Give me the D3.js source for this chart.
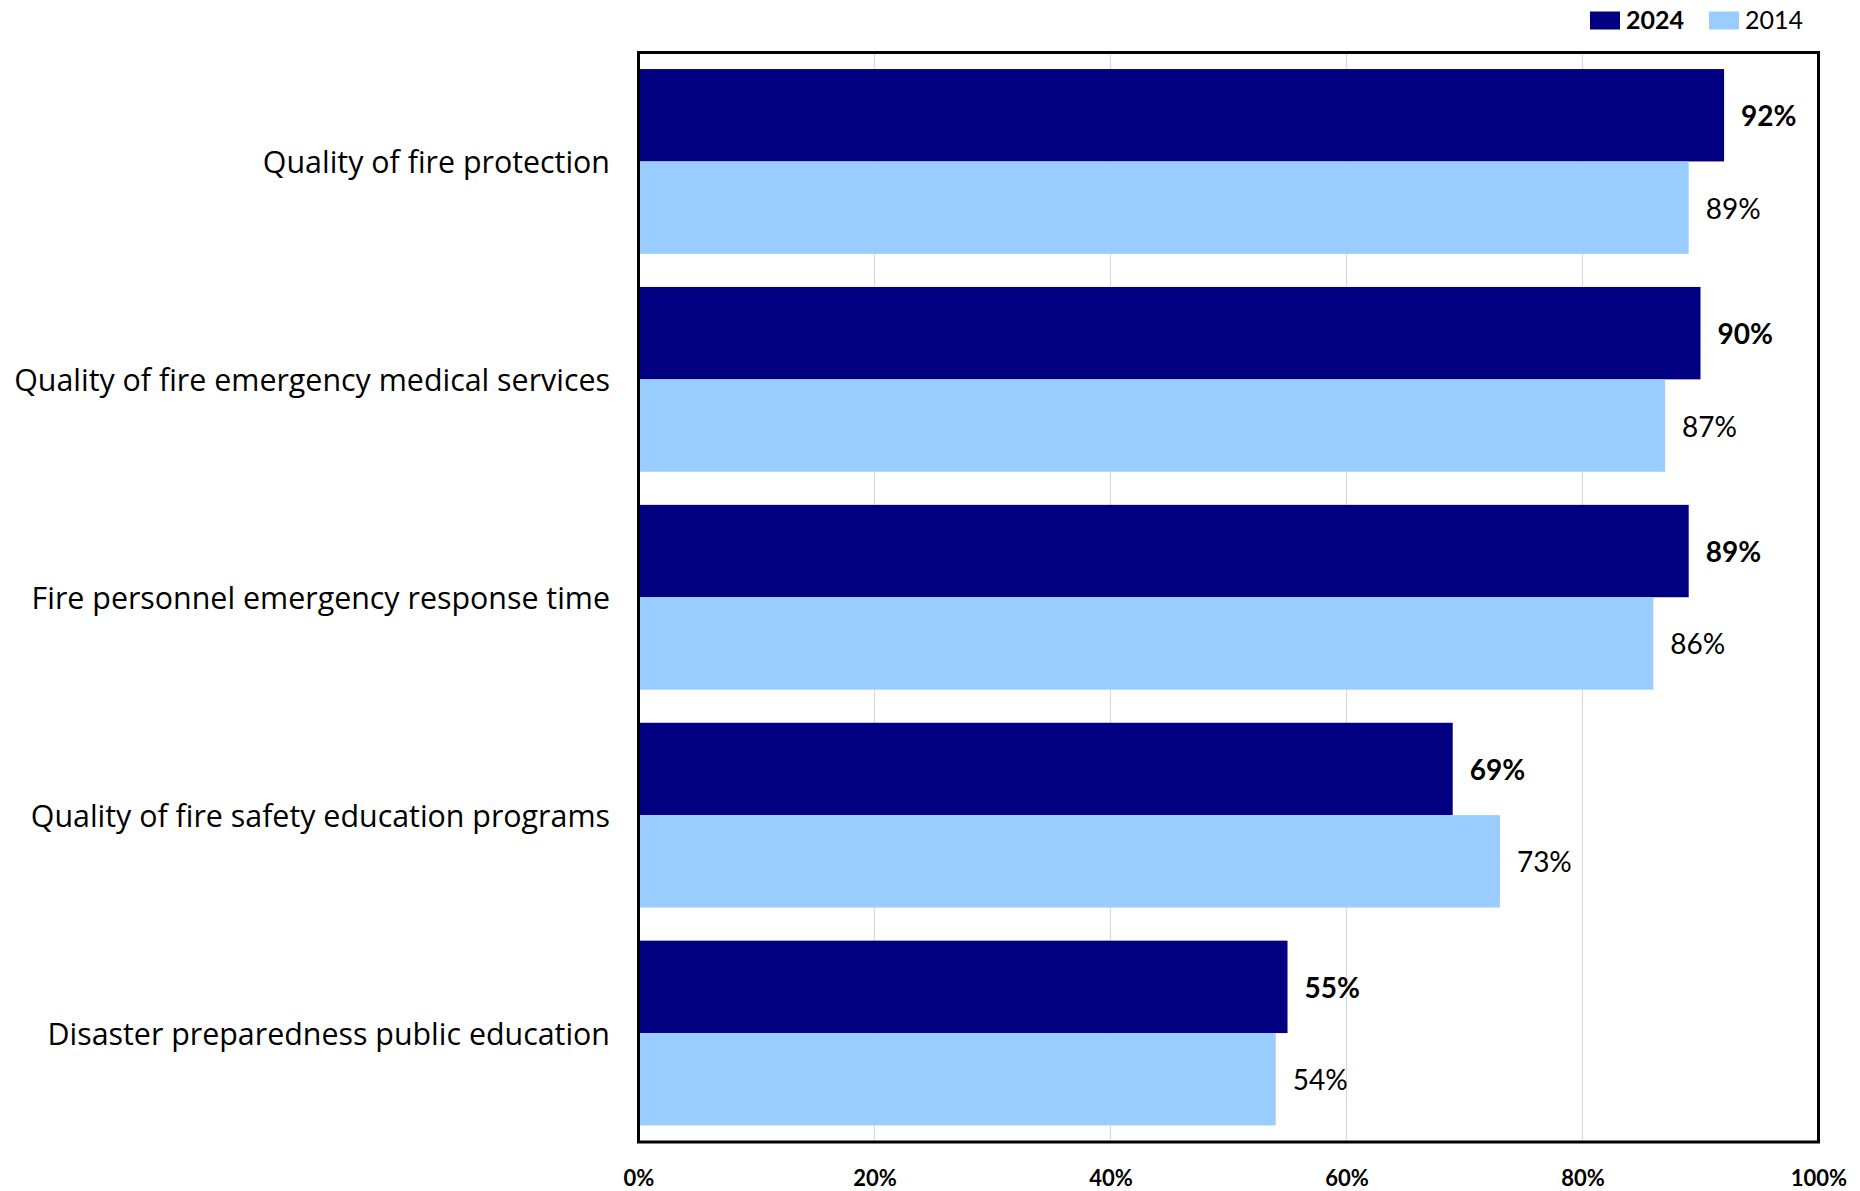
<!DOCTYPE html>
<html>
<head>
<meta charset="utf-8">
<script src="https://cdn.jsdelivr.net/npm/d3@7"></script>
<style>
  html, body { margin: 0; padding: 0; background: #fff; }
  svg { display: block; font-family: Lato, "Open Sans", sans-serif; }
</style>
</head>
<body>
<svg id="chart" width="1860" height="1191"></svg>
<script>
// Survey items, top to bottom
const categories = [
  "Quality of fire protection",
  "Quality of fire emergency medical services",
  "Fire personnel emergency response time",
  "Quality of fire safety education programs",
  "Disaster preparedness public education"
];
const seriesNames = ["2024", "2014"];
const values2024 = [92, 90, 89, 69, 55];
const values2014 = [89, 87, 86, 73, 54];
const tickValues = [0, 20, 40, 60, 80, 100];

const colors = { "2024": "#000080", "2014": "#99CCFF" };

const rows = categories.map((c, i) => ({
  category: c,
  bars: [
    { series: "2024", value: values2024[i] },
    { series: "2014", value: values2014[i] }
  ]
}));

const svg = d3.select("#chart");
const plot = { left: 638.5, right: 1818.5, top: 52.5, bottom: 1142 };

const x = d3.scaleLinear().domain([0, 100]).range([plot.left, plot.right]);
const y = d3.scaleBand()
  .domain(categories)
  .range([plot.top, plot.bottom])
  .paddingInner(0.152)
  .paddingOuter(0.076);
const ySub = d3.scaleBand().domain(seriesNames).range([0, y.bandwidth()]).padding(0);

// vertical gridlines
svg.append("g")
  .selectAll("line")
  .data(tickValues.filter(t => t > 0 && t < 100))
  .join("line")
  .attr("x1", d => x(d)).attr("x2", d => x(d))
  .attr("y1", plot.top).attr("y2", plot.bottom)
  .attr("stroke", "#d9d9d9")
  .attr("stroke-width", 1.2);

// bars
const groups = svg.append("g")
  .selectAll("g")
  .data(rows)
  .join("g")
  .attr("transform", d => `translate(0,${y(d.category)})`);

groups.selectAll("rect")
  .data(d => d.bars)
  .join("rect")
  .attr("x", x(0))
  .attr("y", d => ySub(d.series))
  .attr("width", d => x(d.value) - x(0))
  .attr("height", ySub.bandwidth())
  .attr("fill", d => colors[d.series]);

// value labels
groups.selectAll("text")
  .data(d => d.bars)
  .join("text")
  .attr("x", d => x(d.value) + 17)
  .attr("y", d => ySub(d.series) + ySub.bandwidth() / 2 + 11)
  .attr("font-size", 28)
  .attr("font-weight", d => d.series === "2024" ? 700 : 400)
  .attr("fill", "#000")
  .text(d => d.value + "%");

// category labels, sized so the longest one fills the left margin
const labelFont = "'Open Sans', 'Noto Sans', sans-serif";
const labelRight = 610;
const labelWidth = 596;
const yAxis = d3.axisLeft(y).tickSize(0).tickPadding(0);
const yg = svg.append("g")
  .attr("transform", `translate(${labelRight},0)`)
  .call(yAxis);
yg.select(".domain").remove();
const catText = yg.selectAll("text")
  .attr("font-family", labelFont)
  .attr("font-size", 27)
  .attr("fill", "#000")
  .attr("dy", null)
  .attr("y", 12);
const widest = d3.max(catText.nodes(), n => n.getComputedTextLength());
catText.attr("font-size", 27 * labelWidth / widest);

// x-axis tick labels
const xAxis = d3.axisBottom(x).tickValues(tickValues).tickFormat(d => d + "%").tickSize(0).tickPadding(0);
const xg = svg.append("g")
  .attr("transform", `translate(0,1186)`)
  .call(xAxis);
xg.select(".domain").remove();
xg.selectAll("text")
  .attr("font-family", "Lato, 'Open Sans', sans-serif")
  .attr("font-size", 22)
  .attr("font-weight", 700)
  .attr("fill", "#000")
  .attr("dy", null)
  .attr("y", 0);

// plot frame
svg.append("rect")
  .attr("x", plot.left).attr("y", plot.top)
  .attr("width", plot.right - plot.left)
  .attr("height", plot.bottom - plot.top)
  .attr("fill", "none")
  .attr("stroke", "#000")
  .attr("stroke-width", 3);

// legend
const legendItems = [
  { series: "2024", sx: 1590, tx: 1626, weight: 700 },
  { series: "2014", sx: 1709, tx: 1745, weight: 400 }
];
const legend = svg.append("g");
legend.selectAll("rect")
  .data(legendItems)
  .join("rect")
  .attr("x", d => d.sx).attr("y", 11.5)
  .attr("width", 30).attr("height", 18)
  .attr("fill", d => colors[d.series]);
legend.selectAll("text")
  .data(legendItems)
  .join("text")
  .attr("x", d => d.tx).attr("y", 29)
  .attr("font-size", 25)
  .attr("font-weight", d => d.weight)
  .attr("fill", "#000")
  .text(d => d.series);
</script>
</body>
</html>
